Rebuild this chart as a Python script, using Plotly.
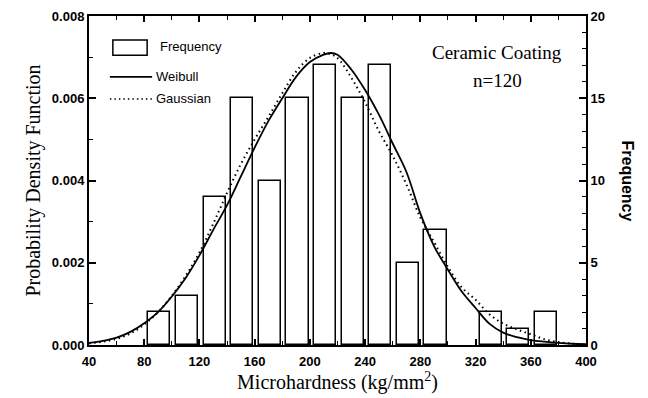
import plotly.graph_objects as go

# Histogram data
bin_centers = [91, 111, 131, 151, 171, 191, 211, 231, 251, 271, 291, 331, 351, 371]
frequency = [2, 3, 9, 15, 10, 15, 17, 15, 17, 5, 7, 2, 1, 2]
bar_width = 16

# Fitted curves
curve_x = [40, 50, 60, 70, 80, 90, 100, 110, 120, 130, 140, 150, 160, 170, 180, 190,
           200, 210, 215, 220, 230, 240, 250, 260, 270, 280, 290, 300, 310, 320, 330,
           340, 350, 360, 370, 380, 390, 400]
weibull = [0.00005, 0.00010, 0.00018, 0.00032, 0.00053, 0.00080, 0.00118, 0.00163,
           0.00218, 0.00280, 0.00340, 0.00410, 0.00480, 0.00545, 0.00600, 0.00652,
           0.00688, 0.00706, 0.00710, 0.00706, 0.00670, 0.00620, 0.00560, 0.00490,
           0.00420, 0.00320, 0.00240, 0.00183, 0.00130, 0.00090, 0.00052, 0.00030,
           0.00019, 0.00012, 0.00008, 0.00005, 0.00003, 0.00002]
gaussian = [0.00004, 0.00008, 0.00015, 0.00028, 0.00050, 0.00080, 0.00120, 0.00168,
            0.00225, 0.00295, 0.00370, 0.00440, 0.00500, 0.00555, 0.00612, 0.00665,
            0.00698, 0.00710, 0.00707, 0.00698, 0.00650, 0.00590, 0.00520, 0.00460,
            0.00390, 0.00310, 0.00250, 0.00190, 0.00140, 0.00110, 0.00075, 0.00052,
            0.00038, 0.00026, 0.00014, 0.00007, 0.00003, 0.00001]

x_ticks = [40, 80, 120, 160, 200, 240, 280, 320, 360, 400]
pdf_ticks = [0.000, 0.002, 0.004, 0.006, 0.008]
freq_ticks = [0, 5, 10, 15, 20]

fig = go.Figure()
fig.add_trace(go.Bar(x=bin_centers, y=frequency, width=bar_width, yaxis="y",
                     marker=dict(color="white", line=dict(color="black", width=1.5)),
                     name="Frequency", showlegend=False))
fig.add_trace(go.Scatter(x=curve_x, y=weibull, yaxis="y2", mode="lines",
                         line=dict(color="black", width=1.8, shape="spline"),
                         name="Weibull", showlegend=False))
fig.add_trace(go.Scatter(x=curve_x, y=gaussian, yaxis="y2", mode="lines",
                         line=dict(color="black", width=2, dash="1.5px,3.5px",
                                   shape="spline"),
                         name="Gaussian", showlegend=False))

tickfont = dict(family="Liberation Sans", size=13, color="black", weight="bold")
serif = "Liberation Serif"

fig.update_layout(
    width=648, height=398,
    margin=dict(l=89, r=62, t=16, b=53),
    paper_bgcolor="white", plot_bgcolor="white",
    bargap=0,
    xaxis=dict(range=[40, 400], tickvals=x_ticks, ticks="inside", ticklen=6,
               tickwidth=1.5, tickcolor="black", showline=True, linecolor="black",
               linewidth=2, mirror="ticks", showgrid=False, zeroline=False,
               tickfont=tickfont, automargin=False, ticklabelstandoff=3,
               minor=dict(dtick=20, tick0=40, ticks="inside", ticklen=4,
                          tickcolor="black", tickwidth=1.2),
               title=dict(text="Microhardness (kg/mm<sup>2</sup>)",
                          font=dict(family=serif, size=20, color="#000000"),
                          standoff=4)),
    yaxis=dict(range=[0, 20], tickvals=freq_ticks, side="right", ticks="inside",
               ticklen=7, tickwidth=1.5, tickcolor="black", showline=True,
               linecolor="black", linewidth=2, showgrid=False, zeroline=False,
               tickfont=tickfont, automargin=False,
               minor=dict(dtick=1, ticks="inside", ticklen=4, tickcolor="black",
                          tickwidth=1.2)),
    yaxis2=dict(range=[0, 0.008], tickvals=pdf_ticks, tickformat=".3f",
                overlaying="y", side="left", ticks="inside", ticklen=7,
                tickwidth=1.5, tickcolor="black", showline=True, linecolor="black",
                linewidth=2, showgrid=False, zeroline=False, tickfont=tickfont,
                automargin=False,
                minor=dict(dtick=0.001, ticks="inside", ticklen=4,
                           tickcolor="black", tickwidth=1.2),
                title=dict(text="Probability Density Function",
                           font=dict(family=serif, size=20, color="#000000"),
                           standoff=6)),
)

# Right axis title (reads top to bottom)
fig.add_annotation(text="<b>Frequency</b>", xref="paper", yref="paper",
                   x=(627 - 89) / 497, y=0.5, xanchor="center", yanchor="middle",
                   textangle=90, showarrow=False,
                   font=dict(family="Liberation Sans", size=16, color="black"))

# Legend drawn manually
fig.add_shape(type="rect", xref="paper", yref="paper", x0=0.048, x1=0.117,
              y0=0.881, y1=0.927, line=dict(color="black", width=1.5), fillcolor="white")
fig.add_shape(type="line", xref="paper", yref="paper", x0=0.042, x1=0.127,
              y0=0.815, y1=0.815, line=dict(color="black", width=1.8))
fig.add_shape(type="line", xref="paper", yref="paper", x0=0.042, x1=0.127,
              y0=0.748, y1=0.748, line=dict(color="black", width=1.5, dash="1.5px,3px"))
legfont = dict(family="Liberation Sans", size=13, color="black")
for txt, yy, xx in [("Frequency", 0.906, 0.139), ("Weibull", 0.815, 0.131),
                    ("Gaussian", 0.748, 0.131)]:
    fig.add_annotation(text=txt, xref="paper", yref="paper", x=xx, y=yy,
                       xanchor="left", yanchor="middle", showarrow=False, font=legfont)

fig.add_annotation(text="Ceramic Coating", xref="paper", yref="paper", x=0.821, y=0.888,
                   xanchor="center", yanchor="middle", showarrow=False,
                   font=dict(family=serif, size=19, color="black"))
fig.add_annotation(text="n=120", xref="paper", yref="paper", x=0.821, y=0.805,
                   xanchor="center", yanchor="middle", showarrow=False,
                   font=dict(family=serif, size=19, color="black"))

fig.write_html("out.html")
